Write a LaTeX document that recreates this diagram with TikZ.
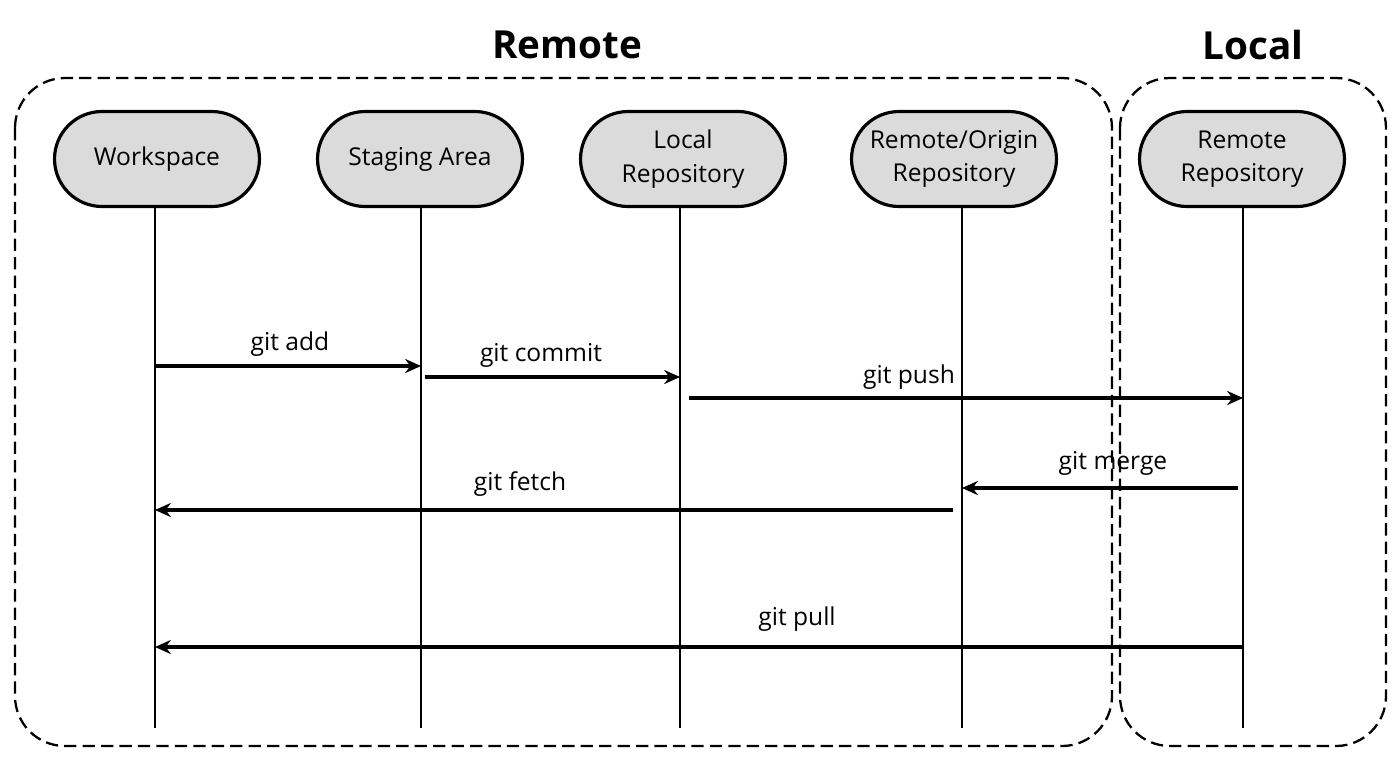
\documentclass[tikz,border=0pt]{standalone}
\usepackage{fontspec}
\setmainfont{Open Sans}
\usetikzlibrary{positioning}
\usetikzlibrary{arrows.meta}
\tikzset{
	actor/.style={
		draw, line width=1.8pt,
		fill=gray!28,
		rounded corners=0.95cm,
		minimum width=4.1cm,
		minimum height=1.9cm,
		align=center,
		font=\fontsize{14}{19}\selectfont},
	zone/.style={
		draw, line width=1.3pt,
		dash pattern=on 7pt off 3.5pt,
		rounded corners=1cm},
	life/.style={
		line width=1.5pt},
	msg/.style={
		-{Stealth[length=9pt,width=8pt]},
		line width=1.9pt},
	lbl/.style={
		font=\fontsize{14}{16}\selectfont},
	title/.style={
		font=\fontsize{22}{26}\selectfont\bfseries}
}

\begin{document}
\begin{tikzpicture}[x=0.02cm,y=-0.02cm]
			\useasboundingbox (0,0) rectangle (1400,772);
			% zones
			\draw[zone] (15,78) rectangle (1112,746);
			\draw[zone] (1120,78) rectangle (1386,746);
			\node[title] (tRemote) at (567,45) {Remote};
			\node[title] (tLocal) at (1253,45) {Local};
			% actors
			\node[actor] (ws) at (157,159) {Workspace};
			\node[actor] (sa) at (420,159) {Staging Area};
			\node[actor] (lr) at (683,159) {Local\\Repository};
			\node[actor] (ro) at (954,159) {Remote/Origin\\Repository};
			\node[actor] (rr) at (1242,159) {Remote\\Repository};
			% lifelines
			\coordinate (wsEnd) at (155,728);
			\coordinate (saEnd) at (421,728);
			\coordinate (lrEnd) at (680,728);
			\coordinate (roEnd) at (962,728);
			\coordinate (rrEnd) at (1243,728);
			\draw[life] (ws.south -| wsEnd) -- (wsEnd);
			\draw[life] (sa.south -| saEnd) -- (saEnd);
			\draw[life] (lr.south -| lrEnd) -- (lrEnd);
			\draw[life] (ro.south -| roEnd) -- (roEnd);
			\draw[life] (rr.south -| rrEnd) -- (rrEnd);
			% messages
			\coordinate (yAdd) at (0,366);
			\coordinate (yCommit) at (0,377);
			\coordinate (yPush) at (0,398);
			\coordinate (yMerge) at (0,488);
			\coordinate (yFetch) at (0,510);
			\coordinate (yPull) at (0,647);
			\draw[msg] (wsEnd |- yAdd) -- (saEnd |- yAdd);
			\draw[msg] ([xshift=2]saEnd |- yCommit) -- (lrEnd |- yCommit);
			\draw[msg] ([xshift=5]lrEnd |- yPush) -- (rrEnd |- yPush);
			\draw[msg] ([xshift=-3]rrEnd |- yMerge) -- (roEnd |- yMerge);
			\draw[msg] ([xshift=-5]roEnd |- yFetch) -- (wsEnd |- yFetch);
			\draw[msg] (rrEnd |- yPull) -- (wsEnd |- yPull);
			\node[lbl] (lAdd) at (290,344) {git add};
			\node[lbl] (lCommit) at (541,355) {git commit};
			\node[lbl] (lPush) at (909,377) {git push};
			\node[lbl] (lMerge) at (1113,463) {git merge};
			\node[lbl] (lFetch) at (520,484) {git fetch};
			\node[lbl] (lPull) at (797,619) {git pull};
\end{tikzpicture}
\end{document}
